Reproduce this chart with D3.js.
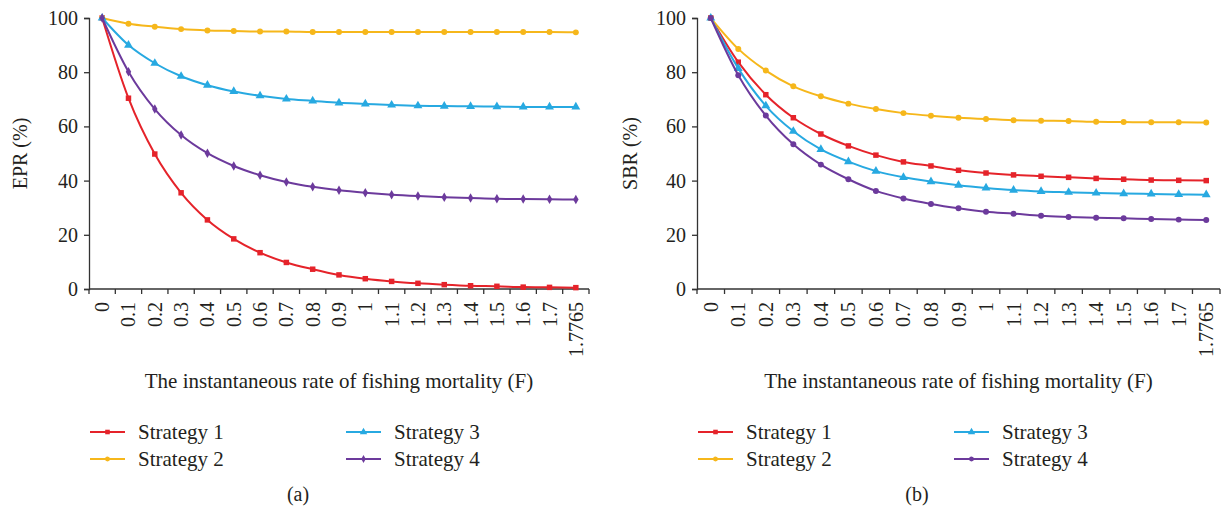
<!DOCTYPE html>
<html>
<head>
<meta charset="utf-8">
<script src="https://cdn.jsdelivr.net/npm/d3@7"></script>
<style>
  body { margin: 0; background: #fff; }
  text { font-family: "Liberation Serif", "Times New Roman", serif; fill: #231f20; }
</style>
</head>
<body>
<svg id="board" width="1221" height="508"></svg>
<script>
// F values on the x axis
const fLabels = ["0","0.1","0.2","0.3","0.4","0.5","0.6","0.7","0.8","0.9","1",
                 "1.1","1.2","1.3","1.4","1.5","1.6","1.7","1.7765"];
const yTicks = [0, 20, 40, 60, 80, 100];
const strategyNames = ["Strategy 1", "Strategy 2", "Strategy 3", "Strategy 4"];

// panel (a) EPR (%)
const eprS1 = [100,70.4,49.8,35.5,25.5,18.5,13.4,9.8,7.3,5.2,3.8,2.8,2.1,1.6,1.2,1.0,0.7,0.6,0.5];
const eprS2 = [100,97.9,96.8,95.9,95.4,95.2,95.0,95.0,94.8,94.8,94.8,94.8,94.8,94.8,94.8,94.8,94.8,94.8,94.7];
const eprS3 = [100,90.0,83.3,78.5,75.2,72.9,71.3,70.1,69.4,68.7,68.3,67.9,67.6,67.5,67.4,67.3,67.2,67.2,67.2];
const eprS4 = [100,80.2,66.4,56.8,50.1,45.4,42.0,39.5,37.7,36.4,35.5,34.8,34.3,33.9,33.6,33.3,33.2,33.1,33.0];

// panel (b) SBR (%)
const sbrS1 = [100,83.7,71.7,63.2,57.2,52.8,49.4,46.9,45.4,43.8,42.8,42.1,41.6,41.2,40.8,40.5,40.2,40.1,40.0];
const sbrS2 = [100,88.6,80.6,74.8,71.1,68.4,66.4,64.9,63.9,63.2,62.7,62.3,62.1,62.0,61.7,61.6,61.5,61.5,61.4];
const sbrS3 = [100,81.4,67.6,58.2,51.5,47.0,43.5,41.2,39.6,38.3,37.3,36.5,36.0,35.7,35.4,35.2,35.1,34.9,34.8];
const sbrS4 = [100,78.9,64.0,53.4,45.9,40.5,36.2,33.4,31.4,29.8,28.5,27.8,27.0,26.6,26.3,26.1,25.8,25.6,25.5];

const colors = ["#e5232a", "#f6b71b", "#27a9e1", "#6c3a9c"];
const axisColor = "#333";

const panels = [
    { series: [eprS1, eprS2, eprS3, eprS4], yTitle: "EPR (%)", tag: "(a)",
      left: 89, right: 589, titleX: 20, tagX: 298,
      shapes: [d3.symbolSquare, d3.symbolCircle, d3.symbolTriangle, d3.symbolDiamond] },
    { series: [sbrS1, sbrS2, sbrS3, sbrS4], yTitle: "SBR (%)", tag: "(b)",
      left: 697, right: 1220, titleX: 630, tagX: 917,
      shapes: [d3.symbolSquare, d3.symbolCircle, d3.symbolTriangle, d3.symbolCircle] }
];

const plotTop = 18, plotBottom = 289;

function sizeOf(shape) {
    if (shape === d3.symbolSquare) return 30;
    if (shape === d3.symbolTriangle) return 34;
    if (shape === d3.symbolDiamond) return 26;
    return 28;
}

function drawPanel(svg, p) {
    const x = d3.scaleBand().domain(fLabels).range([p.left, p.right]).padding(0);
    const y = d3.scaleLinear().domain([0, 100]).range([plotBottom, plotTop]);
    const g = svg.append("g");

    // y axis
    const yAxis = g.append("g")
        .attr("transform", `translate(${p.left},0)`)
        .call(d3.axisLeft(y).tickValues(yTicks).tickSize(5).tickPadding(6));
    yAxis.select(".domain").attr("stroke", axisColor).attr("stroke-width", 1.3);
    yAxis.selectAll(".tick line").attr("stroke", axisColor).attr("stroke-width", 1.3);
    yAxis.selectAll(".tick text")
        .attr("font-size", 20).attr("font-family", "Liberation Serif").attr("fill", "#231f20");

    // x axis: ticks on band edges, labels rotated at band centres
    const edges = fLabels.map(d => x(d)).concat([p.right]);
    const xg = g.append("g");
    xg.append("line")
        .attr("x1", p.left).attr("x2", p.right)
        .attr("y1", plotBottom).attr("y2", plotBottom)
        .attr("stroke", axisColor).attr("stroke-width", 1.3);
    xg.selectAll(".xt").data(edges).enter().append("line")
        .attr("x1", d => d).attr("x2", d => d)
        .attr("y1", plotBottom).attr("y2", plotBottom + 5)
        .attr("stroke", axisColor).attr("stroke-width", 1.3);
    xg.selectAll(".xl").data(fLabels).enter().append("text")
        .attr("transform", d => `translate(${x(d) + x.bandwidth() / 2},${plotBottom + 13}) rotate(-90)`)
        .attr("text-anchor", "end")
        .attr("dy", "0.35em")
        .attr("font-size", 20)
        .text(d => d);

    // lines and markers
    const line = d3.line()
        .x((d, i) => x(fLabels[i]) + x.bandwidth() / 2)
        .y(d => y(d))
        .curve(d3.curveMonotoneX);

    p.series.forEach((s, k) => {
        g.append("path")
            .datum(s)
            .attr("fill", "none")
            .attr("stroke", colors[k])
            .attr("stroke-width", 2)
            .attr("d", line);
        g.selectAll(".m" + k).data(s).enter().append("path")
            .attr("transform", (d, i) => `translate(${x(fLabels[i]) + x.bandwidth() / 2},${y(d)})`)
            .attr("d", d3.symbol().type(p.shapes[k]).size(sizeOf(p.shapes[k])))
            .attr("fill", colors[k]);
    });

    // axis titles
    g.append("text")
        .attr("transform", `translate(${p.titleX},${(plotTop + plotBottom) / 2}) rotate(-90)`)
        .attr("text-anchor", "middle")
        .attr("dy", "0.35em")
        .attr("font-size", 20)
        .text(p.yTitle);
    g.append("text")
        .attr("x", (p.left + p.right) / 2)
        .attr("y", 388)
        .attr("text-anchor", "middle")
        .attr("font-size", 21)
        .text("The instantaneous rate of fishing mortality (F)");

    // legend: two columns, two rows
    const leg = g.append("g");
    strategyNames.forEach((name, k) => {
        const col = k >= 2 ? 1 : 0;
        const row = k % 2;
        const lx = p.left + 1 + col * 256;
        const ly = 432 + row * 27;
        leg.append("line")
            .attr("x1", lx).attr("x2", lx + 35)
            .attr("y1", ly).attr("y2", ly)
            .attr("stroke", colors[k]).attr("stroke-width", 2.2);
        leg.append("path")
            .attr("transform", `translate(${lx + 17.5},${ly})`)
            .attr("d", d3.symbol().type(p.shapes[k]).size(sizeOf(p.shapes[k]) * 0.7))
            .attr("fill", colors[k]);
        leg.append("text")
            .attr("x", lx + 48)
            .attr("y", ly)
            .attr("dy", "0.35em")
            .attr("font-size", 21)
            .text(name);
    });

    g.append("text")
        .attr("x", p.tagX)
        .attr("y", 501)
        .attr("text-anchor", "middle")
        .attr("font-size", 20)
        .text(p.tag);
}

const svg = d3.select("#board");
panels.forEach(p => drawPanel(svg, p));
</script>
</body>
</html>
